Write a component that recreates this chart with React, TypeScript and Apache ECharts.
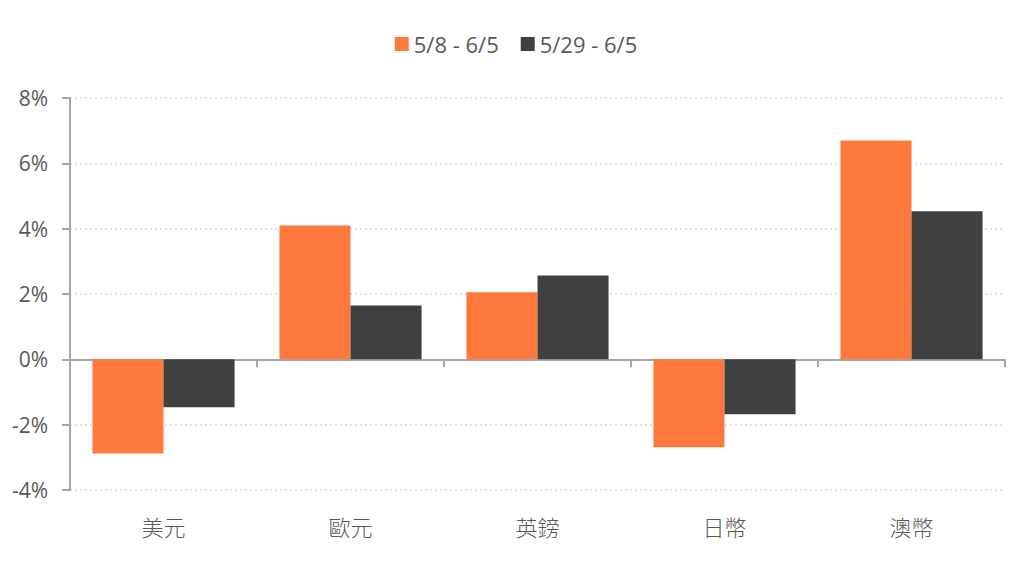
import React, { useEffect, useRef } from 'react';
import * as echarts from 'echarts';

const categories = ['美元', '歐元', '英鎊', '日幣', '澳幣'];
const seriesNames = ['5/8 - 6/5', '5/29 - 6/5'];
const rangeA = [-2.88, 4.1, 2.05, -2.69, 6.7];
const rangeB = [-1.47, 1.65, 2.57, -1.68, 4.53];

const FONT = '"Open Sans", "Noto Sans CJK TC", sans-serif';
const TEXT = '#595959';
const AXIS = '#A6A6A6';

const App: React.FC = () => {
  const chartRef = useRef<HTMLDivElement>(null);

  useEffect(() => {
    if (!chartRef.current) return;
    const chart = echarts.init(chartRef.current, undefined, { renderer: 'svg' });

    const option = {
      animation: false,
      textStyle: { fontFamily: FONT },
      legend: {
        top: 28,
        left: 'center',
        itemWidth: 14,
        itemHeight: 14,
        itemGap: 22,
        icon: 'rect',
        textStyle: { fontSize: 22, color: TEXT, fontFamily: FONT },
        data: seriesNames,
      },
      grid: { left: 70, right: 27, top: 98, bottom: 82 },
      xAxis: [
        {
          // labels along the bottom
          type: 'category',
          data: categories,
          position: 'bottom',
          axisLine: { show: false, onZero: false },
          axisTick: { show: false },
          axisLabel: {
            color: TEXT,
            fontSize: 22,
            margin: 25,
            fontFamily: '"Noto Sans CJK TC", sans-serif',
            fontWeight: 300,
          },
        },
        {
          // axis line + ticks sitting on 0%
          type: 'category',
          data: categories,
          position: 'bottom',
          axisLine: { show: true, onZero: true, lineStyle: { color: AXIS, width: 2 } },
          axisTick: { show: true, length: 8, lineStyle: { color: AXIS, width: 2 } },
          axisLabel: { show: false },
        },
      ],
      yAxis: {
        type: 'value',
        min: -4,
        max: 8,
        interval: 2,
        axisLine: { show: true, lineStyle: { color: AXIS, width: 2 } },
        axisTick: { show: true, length: 8, lineStyle: { color: AXIS, width: 2 } },
        axisLabel: {
          formatter: '{value}%',
          color: TEXT,
          fontSize: 21,
          margin: 22,
          fontFamily: FONT,
        },
        splitLine: { lineStyle: { color: '#D9D9D9', type: [2, 3], width: 1.5 } },
      },
      series: [
        {
          name: seriesNames[0],
          type: 'bar',
          xAxisIndex: 0,
          data: rangeA,
          barGap: '0%',
          barCategoryGap: '24%',
          itemStyle: { color: '#FF783C' },
        },
        {
          name: seriesNames[1],
          type: 'bar',
          xAxisIndex: 0,
          data: rangeB,
          barGap: '0%',
          barCategoryGap: '24%',
          itemStyle: { color: '#404040' },
        },
      ],
    };

    chart.setOption(option);
    return () => {
      chart.dispose();
    };
  }, []);

  return (
    <div
      ref={chartRef}
      style={{ position: 'fixed', left: 0, top: 0, width: '1032px', height: '572px', background: '#fff' }}
    />
  );
};

export default App;
